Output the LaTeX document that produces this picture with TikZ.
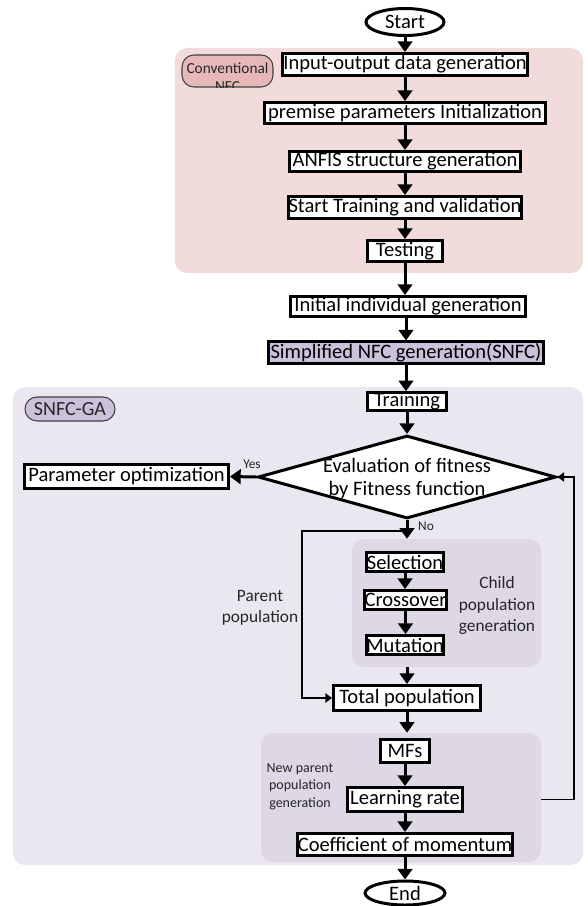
\documentclass[tikz,border=0pt]{standalone}
\usepackage{fontspec}
\setmainfont{Carlito}
\usetikzlibrary{shapes.geometric,arrows.meta}
\definecolor{pinkreg}{HTML}{F2DCDB}
\definecolor{convfill}{HTML}{E6B9B8}
\definecolor{lavreg}{HTML}{EBE7F0}
\definecolor{innerreg}{HTML}{DDD7E6}
\definecolor{snfcfill}{HTML}{CCC1DA}
\definecolor{lblborder}{HTML}{404040}
\begin{document}
\begin{tikzpicture}[x=0.75pt,y=-0.75pt,
  box/.style 2 args={draw=black, line width=2.25pt, fill=white, inner sep=0pt,
    minimum width=#1*0.75pt, minimum height=#2*0.75pt, font=\fontsize{15.4}{18}\selectfont},
  term/.style 2 args={ellipse, draw=black, line width=2.25pt, fill=white, inner sep=0pt,
    minimum width=#1*0.75pt, minimum height=#2*0.75pt, font=\fontsize{15.4}{18}\selectfont},
  region/.style n args={3}{fill=#3, draw=none, rounded corners=9pt, inner sep=0pt,
    minimum width=#1*0.75pt, minimum height=#2*0.75pt},
  arr/.style={line width=2.25pt, -{Triangle[width=11pt,length=8pt]}},
  tarr/.style={line width=1.3pt, -{Triangle[width=7pt,length=5pt]}},
  small/.style={font=\fontsize{10}{12}\selectfont}]
\useasboundingbox (0,0) rectangle (587,906);

% regions
\node[region={408}{225}{pinkreg}] (pinkr) at (379,160.5) {};
\node[region={570}{478}{lavreg}] (lavr) at (298,626) {};
\node[region={189}{128}{innerreg}] (childreg) at (446.5,603) {};
\node[region={280}{129}{innerreg}] (newreg) at (401,797.5) {};

% region labels
\node[draw=lblborder, line width=0.8pt, fill=convfill, rounded corners=9pt, inner sep=0pt,
  minimum width=91*0.75pt, minimum height=32*0.75pt] (convlbl) at (227.5,71) {};
\begin{scope}
  \clip[rounded corners=9pt] (convlbl.south west) rectangle (convlbl.north east);
  \node[align=center, font=\fontsize{11.5}{13.5}\selectfont, text=black!85] (convtxt) at (227.5,77) {Conventional\\NFC};
\end{scope}
\node[draw=lblborder, line width=0.8pt, fill=snfcfill, rounded corners=9pt, inner sep=0pt,
  minimum width=90*0.75pt, minimum height=24*0.75pt, font=\fontsize{15}{18}\selectfont, text=black!85] (galbl) at (70,409) {SNFC-GA};

% main column
\node[term={78}{27}] (start) at (405,22) {Start};
\node[box={245}{22}] (in1) at (405,64.5) {Input-output data generation};
\node[box={281}{21}] (in2) at (405,113) {premise parameters Initialization};
\node[box={231}{20}] (in3) at (405,161.5) {ANFIS structure generation};
\node[box={232}{22}] (in4) at (405,207.5) {Start Training and validation};
\node[box={75}{21}] (test) at (405,251) {Testing};
\node[box={235}{20}] (init) at (408,306.5) {Initial individual generation};
\node[box={275}{22}, fill=snfcfill, line width=1.6pt] (snfc) at (406,352.5) {Simplified NFC generation(SNFC)};
\node[box={79}{17}] (train) at (407,401.5) {Training};
\node[diamond, draw=black, line width=2.25pt, fill=white, inner sep=0pt,
  minimum width=298*0.75pt, minimum height=83*0.75pt] (dia) at (407,477) {};
\node[align=center, font=\fontsize{15.4}{17.25}\selectfont] (diatxt) at (407,478.5) {Evaluation of fitness\\by Fitness function};
\node[box={204}{24}] (param) at (126.5,476.5) {Parameter optimization};
\node[box={77}{19}] (sel) at (405,562) {Selection};
\node[box={78}{19}] (cross) at (405.5,600) {Crossover};
\node[box={77}{19}] (mut) at (405,645) {Mutation};
\node[box={147}{25}] (total) at (407,698) {Total population};
\node[box={49}{23}] (mfs) at (405,751) {MFs};
\node[box={115}{24}] (lr) at (405,799.5) {Learning rate};
\node[box={213}{22}] (coef) at (405,844.5) {Coefficient of momentum};
\node[term={80}{24}] (end) at (405,893) {End};

% side texts
\node[align=center, font=\fontsize{13}{16}\selectfont, text=black!85] (childtxt) at (497,605.5) {Child\\population\\generation};
\node[align=center, font=\fontsize{13}{15.75}\selectfont, text=black!85] (parenttxt) at (260,607.5) {Parent\\population};
\node[align=center, font=\fontsize{10.5}{13}\selectfont, text=black!85] (newtxt) at (300,786.5) {New parent\\population\\generation};
\node[small, text=black!85] (yes) at (252,464) {Yes};
\node[small, text=black!85] (no) at (426,526) {No};

% arrows
\draw[arr] (start.south) -- (start.south |- in1.north);
\draw[arr] (in1.south) -- (in1.south |- in2.north);
\draw[arr] (in2.south) -- (in2.south |- in3.north);
\draw[arr] (in3.south) -- (in3.south |- in4.north);
\draw[arr] (in4.south) -- (in4.south |- test.north);
\draw[arr] (test.south) -- (test.south |- init.north);
\draw[arr] (init.south -| snfc) -- (snfc.north);
\draw[arr] (snfc.south) -- (snfc.south |- train.north);
\draw[arr] (train.south) -- (train.south |- dia.north);
\draw[arr] (dia.west) -- (param.east);
\draw[arr] (dia.south) -- (dia.south |- childreg.north);
\draw[arr] (sel.south) -- (sel.south |- cross.north);
\draw[arr] (cross.south) -- (cross.south |- mut.north);
\draw[arr] (total.north |- childreg.south) -- (total.north);
\draw[arr] (total.south) -- (total.south |- newreg.north);
\draw[arr] (mfs.south) -- (mfs.south |- lr.north);
\draw[arr] (lr.south) -- (lr.south |- coef.north);
\draw[arr] (coef.south) -- (coef.south |- end.north);

% parent population bypass
\coordinate (pj) at (407,531);
\coordinate (pl) at (302,531);
\draw[tarr] (pj) -- (pl) |- (total.west);

% feedback loop
\coordinate (fb) at (574,799.5);
\draw[tarr] (newreg.east |- fb) -- (fb) |- (dia.east);
\end{tikzpicture}
\end{document}
